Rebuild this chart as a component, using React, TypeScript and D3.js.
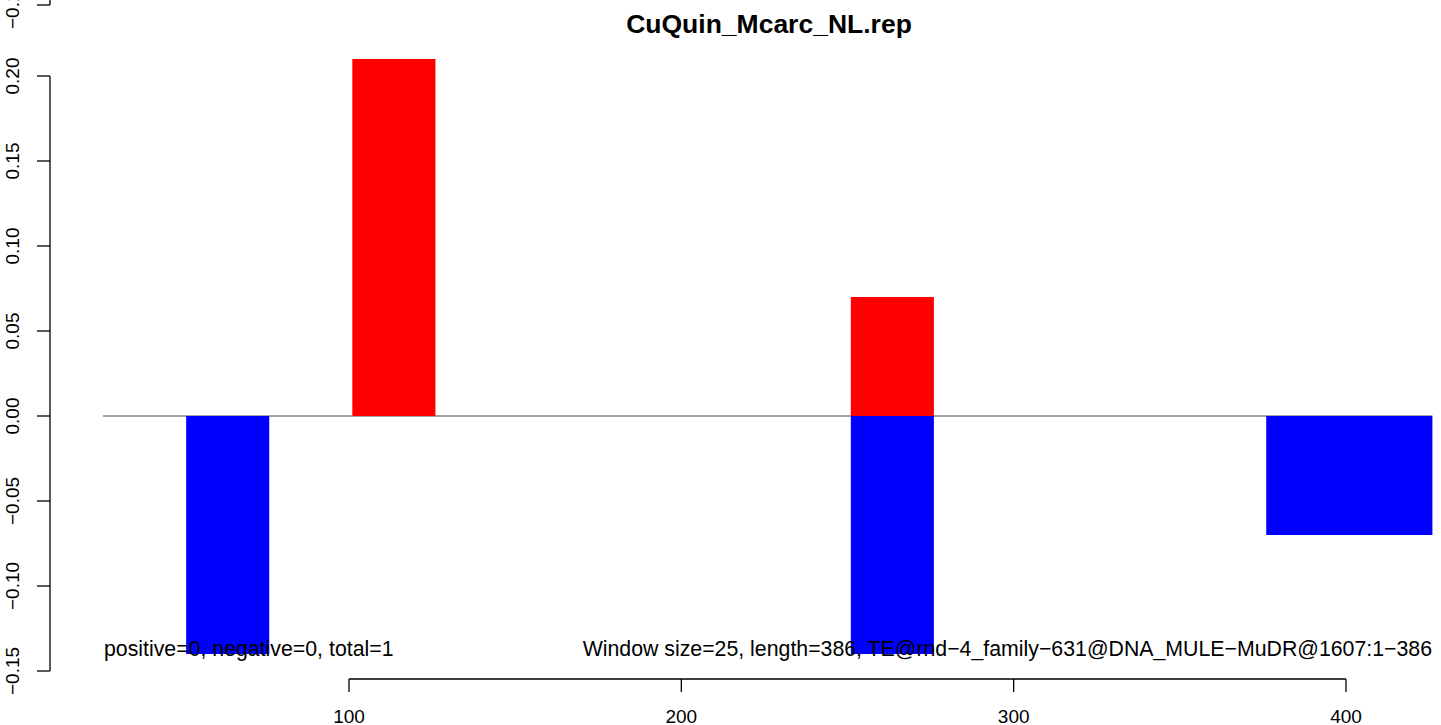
import React from "react";
import * as d3 from "d3";

const title = "CuQuin_Mcarc_NL.rep";
const posStart = [101, 251];
const posEnd = [126, 276];
const posValue = [0.21, 0.07];
const negStart = [51, 251, 376];
const negEnd = [76, 276, 426];
const negValue = [-0.14, -0.14, -0.07];
const xTicks = [100, 200, 300, 400];
const yTicks = [-0.15, -0.1, -0.05, 0, 0.05, 0.1, 0.15, 0.2];
const yTickLabels = ["−0.15", "−0.10", "−0.05", "0.00", "0.05", "0.10", "0.15", "0.20"];
const xDomain = [26, 426];
const leftNote = "positive=0, negative=0, total=1";
const rightNote = "Window size=25, length=386, TE@rnd−4_family−631@DNA_MULE−MuDR@1607:1−386";

const W = 1441;
const H = 725;
const FONT = "'Liberation Sans', Arial, Helvetica, sans-serif";

export default function App() {
  const x = d3.scaleLinear().domain([100, 400]).range([349, 1346]);
  const y = d3.scaleLinear().domain([0, 0.2]).range([416, 76]);
  const plotL = x(xDomain[0]);
  const plotR = x(xDomain[1]);
  const axisX = 50;
  const axisY = 679;
  const tick = 13;
  const fs = 19;

  const bar = (s: number, e: number, v: number, color: string, key: string) => {
    const x0 = Math.max(plotL, x(s));
    const x1 = Math.min(plotR, x(e));
    const yTop = Math.min(y(0), y(v));
    const h = Math.abs(y(v) - y(0));
    return <rect key={key} x={x0} y={yTop} width={x1 - x0} height={h} fill={color} />;
  };

  return (
    <svg
      width={W}
      height={H}
      style={{ position: "absolute", left: 0, top: 0, background: "#fff" }}
      fontFamily={FONT}
    >
      <rect x={0} y={0} width={W} height={H} fill="#fff" />
      <text x={769} y={33} textAnchor="middle" fontWeight="bold" fontSize={26.5}>
        {title}
      </text>

      <line x1={plotL} x2={plotR} y1={y(0)} y2={y(0)} stroke="#444" strokeWidth={1} />

      {negStart.map((s, i) => bar(s, negEnd[i], negValue[i], "#0000ff", "n" + i))}
      {posStart.map((s, i) => bar(s, posEnd[i], posValue[i], "#ff0000", "p" + i))}

      <text x={104} y={656} fontSize={21.3} fill="#000">
        {leftNote}
      </text>
      <text x={1432} y={656} fontSize={21.3} textAnchor="end" fill="#000">
        {rightNote}
      </text>

      {/* y axis */}
      <g stroke="#000" strokeWidth={1.3} fill="none">
        <line x1={axisX} x2={axisX} y1={y(yTicks[0])} y2={y(yTicks[yTicks.length - 1])} />
        {yTicks.map((t) => (
          <line key={t} x1={axisX - tick} x2={axisX} y1={y(t)} y2={y(t)} />
        ))}
        {/* fragment of another axis at the top edge */}
        <line x1={axisX} x2={axisX} y1={-10} y2={5} />
        <line x1={axisX - tick} x2={axisX} y1={5} y2={5} />
      </g>
      {yTicks.map((t, i) => (
        <text
          key={t}
          transform={`translate(19,${y(t)}) rotate(-90)`}
          textAnchor="middle"
          fontSize={fs}
        >
          {yTickLabels[i]}
        </text>
      ))}
      <text transform={`translate(19,5) rotate(-90)`} textAnchor="middle" fontSize={fs}>
        {"−0.15"}
      </text>

      {/* x axis */}
      <g stroke="#000" strokeWidth={1.3} fill="none">
        <line x1={x(xTicks[0])} x2={x(xTicks[xTicks.length - 1])} y1={axisY} y2={axisY} />
        {xTicks.map((t) => (
          <line key={t} x1={x(t)} x2={x(t)} y1={axisY} y2={axisY + tick} />
        ))}
      </g>
      {xTicks.map((t) => (
        <text key={t} x={x(t)} y={723} textAnchor="middle" fontSize={fs}>
          {t}
        </text>
      ))}
    </svg>
  );
}
